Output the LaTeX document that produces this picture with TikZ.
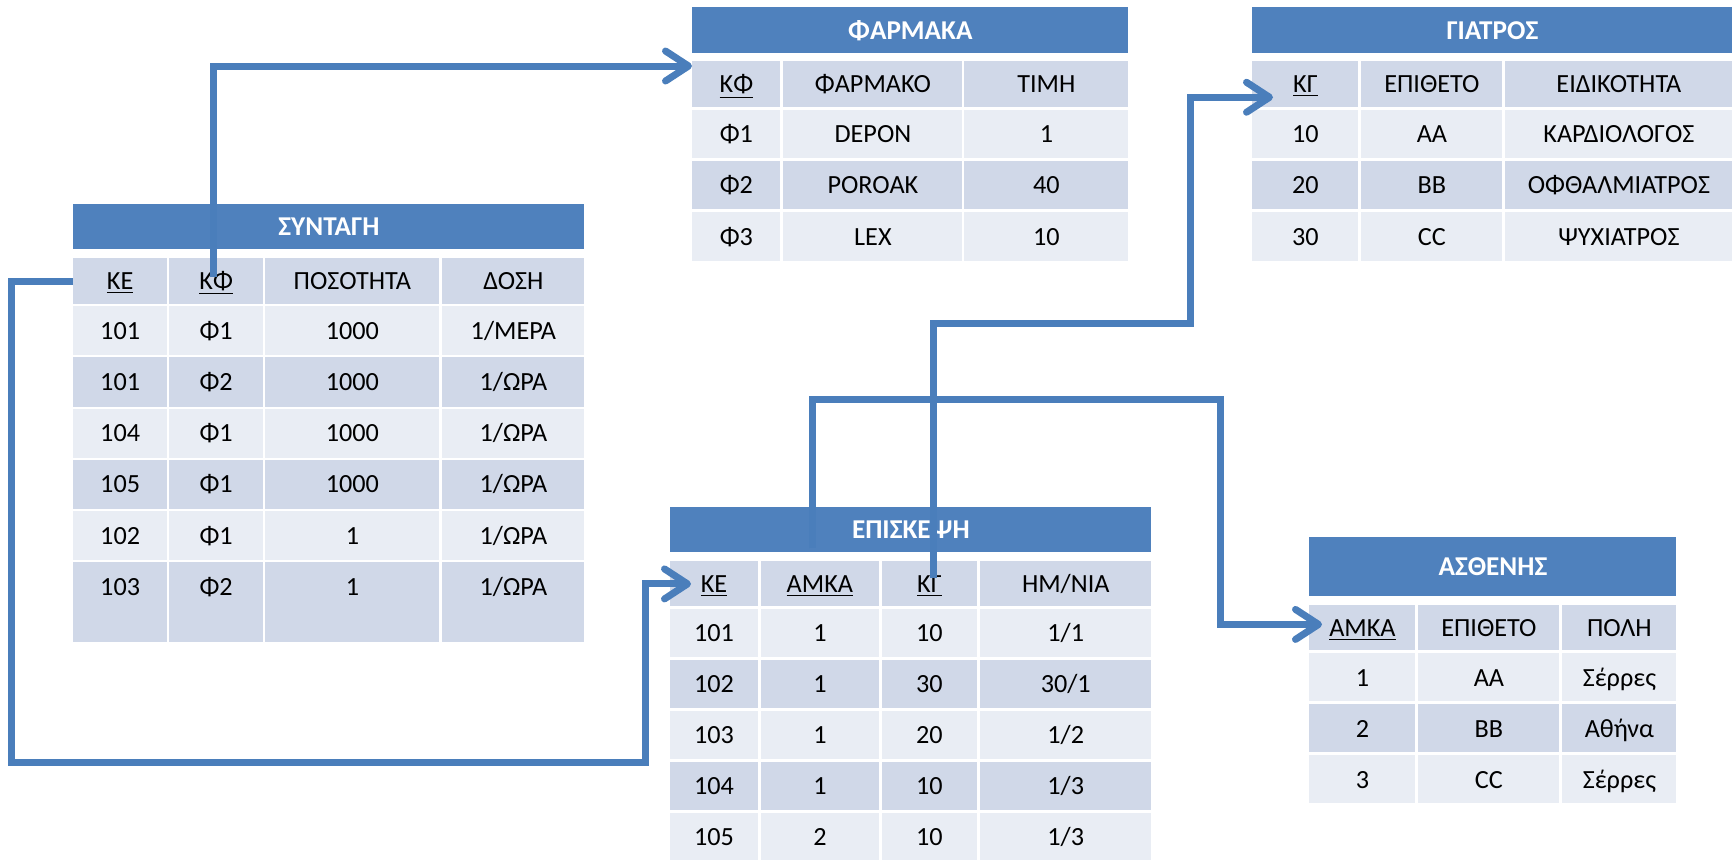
\documentclass[tikz,border=0pt]{standalone}
\usepackage{fontspec}
\setmainfont{Carlito}
\usetikzlibrary{arrows.meta, calc}

\definecolor{hdrblue}{HTML}{4F81BD}
\definecolor{tone0}{HTML}{D0D8E8}
\definecolor{tone1}{HTML}{E9EDF4}
\definecolor{linkblue}{HTML}{4A7EBB}

\tikzset{
  cell/.style={rectangle, inner sep=0pt, anchor=north west, text height=8.6pt, text depth=0pt,
    font=\fontsize{13.1}{15}\selectfont},
  title/.style={cell, fill=hdrblue, text=white, font=\fontsize{13.6}{15}\selectfont\bfseries},
  link/.style={draw=linkblue, line width=3.5pt, -{Straight Barb[length=11.5pt, width=15pt, round]}},
}

\begin{document}
\begin{tikzpicture}[x=0.5pt, y=-0.5pt]
    \useasboundingbox (0,0) rectangle (1732,859);

    % SYNTAGH
    \node[title, minimum width=255.5pt, minimum height=22.5pt] (syn) at (73,204) {ΣΥΝΤΑΓΗ};
    \foreach \x/\w/\hd/\vals [count=\c] in {
        73/93.5/{\underline{ΚΕ}}/{101,101,104,105,102,103},
        169/93.5/{\underline{ΚΦ}}/{Φ1,Φ2,Φ1,Φ1,Φ1,Φ2},
        265/174/{ΠΟΣΟΤΗΤΑ}/{1000,1000,1000,1000,1,1},
        442/142/{ΔΟΣΗ}/{{1/ΜΕΡΑ},{1/ΩΡΑ},{1/ΩΡΑ},{1/ΩΡΑ},{1/ΩΡΑ},{1/ΩΡΑ}}} {
        \node[cell, fill=tone0, minimum width=\w*0.5pt, minimum height=22.75pt] (syn-h\c) at (\x,258) {\hd};
        \foreach \v [count=\r] in \vals {
            \pgfmathtruncatemacro\p{mod(\r,2)}
            \pgfmathsetmacro\y{305.7+51.2*(\r-1)}
            \pgfmathsetmacro\h{\r==6 ? 80 : 49.3}
            \pgfmathsetmacro\d{(\h-49.3)*0.5}
            \node[cell, fill=tone\p, minimum width=\w*0.5pt, minimum height=\h*0.5pt, text depth=\d pt] (syn-\r-\c) at (\x,\y) {\v};
        }
    }

    % FARMAKA
    \node[title, minimum width=218pt, minimum height=23pt] (far) at (692,7) {ΦΑΡΜΑΚΑ};
    \foreach \x/\w/\hd/\vals [count=\c] in {
        692/88/{\underline{ΚΦ}}/{Φ1,Φ2,Φ3},
        783/179/{ΦΑΡΜΑΚΟ}/{DEPON,POROAK,LEX},
        964/164/{ΤΙΜΗ}/{1,40,10}} {
        \node[cell, fill=tone0, minimum width=\w*0.5pt, minimum height=22.85pt] (far-h\c) at (\x,61) {\hd};
        \foreach \v [count=\r] in \vals {
            \pgfmathtruncatemacro\p{mod(\r,2)}
            \pgfmathsetmacro\y{109.3+51.3*(\r-1)}
            \node[cell, fill=tone\p, minimum width=\w*0.5pt, minimum height=24.2pt] (far-\r-\c) at (\x,\y) {\v};
        }
    }

    % GIATROS
    \node[title, minimum width=240pt, minimum height=23pt] (gia) at (1252,7) {ΓΙΑΤΡΟΣ};
    \foreach \x/\w/\hd/\vals [count=\c] in {
        1252/106/{\underline{ΚΓ}}/{10,20,30},
        1361/141/{ΕΠΙΘΕΤΟ}/{AA,BB,CC},
        1505/227/{ΕΙΔΙΚΟΤΗΤΑ}/{ΚΑΡΔΙΟΛΟΓΟΣ,ΟΦΘΑΛΜΙΑΤΡΟΣ,ΨΥΧΙΑΤΡΟΣ}} {
        \node[cell, fill=tone0, minimum width=\w*0.5pt, minimum height=22.85pt] (gia-h\c) at (\x,61) {\hd};
        \foreach \v [count=\r] in \vals {
            \pgfmathtruncatemacro\p{mod(\r,2)}
            \pgfmathsetmacro\y{109.3+51.3*(\r-1)}
            \node[cell, fill=tone\p, minimum width=\w*0.5pt, minimum height=24.2pt] (gia-\r-\c) at (\x,\y) {\v};
        }
    }

    % EPISKEPSH
    \node[title, minimum width=240.5pt, minimum height=22.5pt] (epi) at (670,507) {ΕΠΙΣΚΕΨΗ};
    \foreach \x/\w/\hd/\vals [count=\c] in {
        670/87.3/{\underline{ΚΕ}}/{101,102,103,104,105},
        760.7/117.6/{\underline{ΑΜΚΑ}}/{1,1,1,1,2},
        881.3/95.4/{\underline{ΚΓ}}/{10,30,20,10,10},
        979.7/171.3/{ΗΜ/ΝΙΑ}/{{1/1},{30/1},{1/2},{1/3},{1/3}}} {
        \node[cell, fill=tone0, minimum width=\w*0.5pt, minimum height=22.5pt] (epi-h\c) at (\x,561) {\hd};
        \foreach \v [count=\r] in \vals {
            \pgfmathtruncatemacro\p{mod(\r,2)}
            \pgfmathsetmacro\y{609+51*(\r-1)}
            \node[cell, fill=tone\p, minimum width=\w*0.5pt, minimum height=23.85pt] (epi-\r-\c) at (\x,\y) {\v};
        }
    }

    % ASTHENHS
    \node[title, minimum width=183.5pt, minimum height=29.5pt] (ast) at (1309,537) {ΑΣΘΕΝΗΣ};
    \foreach \x/\w/\hd/\vals [count=\c] in {
        1309/106/{\underline{ΑΜΚΑ}}/{1,2,3},
        1418/141/{ΕΠΙΘΕΤΟ}/{AA,BB,CC},
        1562/114/{ΠΟΛΗ}/{Σέρρες,Αθήνα,Σέρρες}} {
        \node[cell, fill=tone0, minimum width=\w*0.5pt, minimum height=22.5pt] (ast-h\c) at (\x,605) {\hd};
        \foreach \v [count=\r] in \vals {
            \pgfmathtruncatemacro\p{mod(\r,2)}
            \pgfmathsetmacro\y{653+51*(\r-1)}
            \node[cell, fill=tone\p, minimum width=\w*0.5pt, minimum height=24pt] (ast-\r-\c) at (\x,\y) {\v};
        }
    }

    % links
    \coordinate (keleft) at (11,762);
    \coordinate (keright) at (645,762);
    \coordinate (kgbend) at (1190,323);
    \coordinate (amkabend) at (1220,399);

    \draw[link] ([xshift=-1.5pt,yshift=-9.5pt]syn-h2.north) |- ([yshift=-2.5pt]far-h1.north west);
    \draw[link] (syn-h1.west) -| (keleft) -- (keright) |- ([xshift=10.5pt]epi-h1.west);
    \draw[link] ([xshift=1.8pt,yshift=-8.5pt]epi-h3.north) |- (kgbend) |- ([xshift=10.5pt,yshift=-6.5pt]gia-h1.west);
    \draw[link] ([xshift=-3.75pt,yshift=6.5pt]epi-h2.north) |- (amkabend) |- ([xshift=6.5pt,yshift=1.75pt]ast-h1.west);
\end{tikzpicture}
\end{document}
